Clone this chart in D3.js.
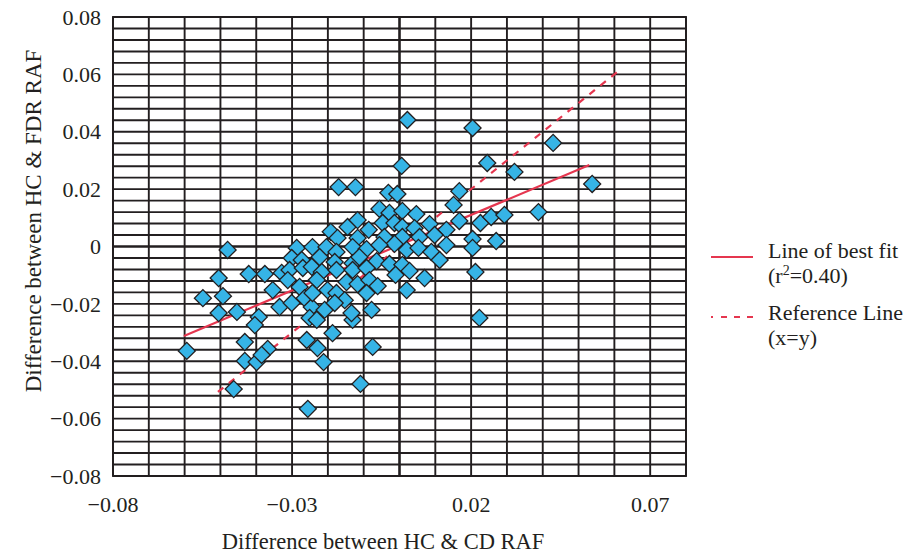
<!DOCTYPE html>
<html>
<head>
<meta charset="utf-8">
<script src="https://cdn.jsdelivr.net/npm/d3@7"></script>
<style>
  html, body { margin: 0; padding: 0; background: #ffffff; }
  svg { display: block; }
  text { font-family: "Liberation Serif", "DejaVu Serif", serif; fill: #231f20; }
</style>
</head>
<body>
<svg id="chart" width="904" height="553"></svg>
<script>
// ---- data ----
const hcCdDiff = [
  0.0022, 0.0204, 0.0429, 0.0245, 0.0321, 0.0006, 0.0167, 0.0538, 0.0388, -0.0170,
  -0.0123, -0.0031, -0.0006, 0.0151, -0.0056, -0.0028, 0.0008, 0.0047, -0.0047, -0.0014,
  0.0008, 0.0042, 0.0084, 0.0131, 0.0167, 0.0226, 0.0256, 0.0293, -0.0145, -0.0117,
  -0.0086, -0.0192, -0.0173, -0.0117, -0.0042, 0.0008, 0.0056, 0.0098, -0.0014, 0.0131,
  0.0204, 0.0204, 0.0270, 0.0020, 0.0053, 0.0089, 0.0112, -0.0287, -0.0243, -0.0204,
  -0.0176, -0.0131, -0.0092, -0.0480, -0.0301, -0.0223, -0.0181, -0.0131, -0.0112, -0.0064,
  -0.0028, 0.0008, 0.0028, -0.0011, 0.0070, 0.0212, -0.0273, -0.0329, -0.0307, -0.0270,
  -0.0245, -0.0217, -0.0176, -0.0131, -0.0092, -0.0421, -0.0376, -0.0505, -0.0354, -0.0312,
  -0.0279, -0.0231, -0.0201, -0.0148, -0.0117, -0.0084, -0.0061, 0.0020, -0.0549, -0.0493,
  -0.0505, -0.0454, -0.0335, -0.0393, -0.0404, -0.0432, -0.0594, -0.0432, -0.0399, -0.0368,
  -0.0463, -0.0256, -0.0259, -0.0229, -0.0212, -0.0187, -0.0109, -0.0075, -0.0131, -0.0134,
  -0.0078, -0.0301, -0.0265, -0.0245, -0.0209, -0.0251, -0.0231, -0.0243, -0.0176, -0.0153,
  -0.0181, -0.0092, 0.0223, -0.0056, -0.0385
];
const hcFdrDiff = [
  0.0441, 0.0413, 0.0361, 0.0291, 0.0260, 0.0281, 0.0193, 0.0218, 0.0120, 0.0207,
  0.0207, 0.0187, 0.0183, 0.0145, 0.0131, 0.0117, 0.0124, 0.0113, 0.0082, 0.0082,
  0.0068, 0.0064, 0.0078, 0.0058, 0.0089, 0.0082, 0.0103, 0.0110, 0.0068, 0.0092,
  0.0058, 0.0051, 0.0030, 0.0030, 0.0033, 0.0033, 0.0033, 0.0040, 0.0009, 0.0005,
  0.0026, -0.0005, 0.0019, -0.0012, -0.0005, -0.0019, -0.0047, -0.0005, -0.0002, -0.0002,
  -0.0019, -0.0002, -0.0009, -0.0012, -0.0040, -0.0037, -0.0054, -0.0058, -0.0037, -0.0051,
  -0.0061, -0.0064, -0.0085, -0.0099, -0.0110, -0.0089, -0.0047, -0.0092, -0.0082, -0.0075,
  -0.0071, -0.0089, -0.0082, -0.0082, -0.0075, -0.0096, -0.0096, -0.0110, -0.0152, -0.0117,
  -0.0141, -0.0117, -0.0152, -0.0124, -0.0131, -0.0117, -0.0138, -0.0152, -0.0180, -0.0173,
  -0.0232, -0.0228, -0.0211, -0.0246, -0.0274, -0.0333, -0.0364, -0.0399, -0.0403, -0.0357,
  -0.0497, -0.0566, -0.0326, -0.0354, -0.0403, -0.0302, -0.0479, -0.0350, -0.0256, -0.0232,
  -0.0221, -0.0197, -0.0180, -0.0211, -0.0221, -0.0249, -0.0256, -0.0162, -0.0162, -0.0187,
  -0.0197, -0.0162, -0.0249, 0.0005, -0.0378
];
// line of best fit (r^2 = 0.40) end points, and the x = y reference line end points
const fitX = [-0.0602, 0.0530];
const fitY = [-0.0312, 0.0284];
const refX = [-0.0507, 0.0608];
const refY = [-0.0507, 0.0608];
// axis tick labels
const xTickValues = [-0.08, -0.03, 0.02, 0.07];
const yTickValues = [0.08, 0.06, 0.04, 0.02, 0, -0.02, -0.04, -0.06, -0.08];
const xTitle = "Difference between HC & CD RAF";
const yTitle = "Difference between HC & FDR RAF";
const legendLabels = [["Line of best fit", "(r²=0.40)"], ["Reference Line", "(x=y)"]];

(function () {
  const svg = d3.select("#chart");
  const pL = 113, pR = 686, pT = 17, pB = 476;
  const x = d3.scaleLinear().domain([-0.08, 0.08]).range([pL, pR]);
  const y = d3.scaleLinear().domain([-0.08, 0.08]).range([pB, pT]);
  const ink = "#231f20";
  const red = "#e5364f";

  const fmt = v => v === 0 ? "0" : (v < 0 ? "\u2212" : "") + Math.abs(v).toFixed(2);

  // grid
  const vGrid = d3.range(-0.08, 0.0801, 0.01);
  const hGrid = d3.range(-0.08, 0.0801, 0.004);
  const g = svg.append("g");
  g.selectAll("line.v").data(vGrid).join("line")
    .attr("x1", d => x(d)).attr("x2", d => x(d))
    .attr("y1", pT).attr("y2", pB)
    .attr("stroke", ink)
    .attr("stroke-width", d => Math.abs(d) < 1e-9 ? 2.6 : 1.9);
  g.selectAll("line.h").data(hGrid).join("line")
    .attr("y1", d => y(d)).attr("y2", d => y(d))
    .attr("x1", pL).attr("x2", pR)
    .attr("stroke", ink)
    .attr("stroke-width", d => Math.abs(d) < 1e-9 ? 2.6 : 1.9);
  g.append("rect").attr("x", pL).attr("y", pT)
    .attr("width", pR - pL).attr("height", pB - pT)
    .attr("fill", "none").attr("stroke", ink).attr("stroke-width", 1.9);

  // y tick labels
  svg.append("g").selectAll("text").data(yTickValues).join("text")
    .attr("x", 101).attr("y", d => y(d))
    .attr("dy", "0.35em")
    .attr("text-anchor", "end")
    .attr("font-size", 22)
    .text(fmt);

  // x tick labels
  svg.append("g").selectAll("text").data(xTickValues).join("text")
    .attr("x", d => x(d)).attr("y", 512)
    .attr("text-anchor", "middle")
    .attr("font-size", 22)
    .text(fmt);

  // axis titles
  svg.append("text").attr("x", 383).attr("y", 549)
    .attr("text-anchor", "middle").attr("font-size", 22.5).text(xTitle);
  svg.append("text")
    .attr("transform", "translate(41,221) rotate(-90)")
    .attr("text-anchor", "middle").attr("font-size", 23).text(yTitle);

  // lines
  const lineGen = d3.line().x(d => x(d[0])).y(d => y(d[1]));
  svg.append("path").datum(d3.zip(fitX, fitY))
    .attr("d", lineGen).attr("fill", "none")
    .attr("stroke", red).attr("stroke-width", 2.2);
  svg.append("path").datum(d3.zip(refX, refY))
    .attr("d", lineGen).attr("fill", "none")
    .attr("stroke", red).attr("stroke-width", 2.2)
    .attr("stroke-dasharray", "7,7");

  // points
  const pts = d3.zip(hcCdDiff, hcFdrDiff);
  const sym = d3.symbol().type(d3.symbolSquare).size(145);
  svg.append("g").selectAll("path").data(pts).join("path")
    .attr("d", sym)
    .attr("transform", d => `translate(${x(d[0])},${y(d[1])}) rotate(45)`)
    .attr("fill", "#36b4e6")
    .attr("stroke", ink)
    .attr("stroke-width", 1.3);

  // legend
  const lg = svg.append("g");
  lg.append("line").attr("x1", 711).attr("x2", 753).attr("y1", 257).attr("y2", 257)
    .attr("stroke", red).attr("stroke-width", 2.2);
  lg.append("line").attr("x1", 711).attr("x2", 753).attr("y1", 317).attr("y2", 317)
    .attr("stroke", red).attr("stroke-width", 2.2).attr("stroke-dasharray", "2,8,6,7,6,7,6");
  const rows = [[258, 283], [320, 345]];
  legendLabels.forEach((lab, i) => {
    lg.append("text").attr("x", 768).attr("y", rows[i][0]).attr("font-size", 22).text(lab[0]);
    if (i === 0) {
      const t = lg.append("text").attr("x", 768).attr("y", rows[i][1]).attr("font-size", 22);
      t.append("tspan").text("(r");
      t.append("tspan").attr("dy", -8).attr("font-size", 14).text("2");
      t.append("tspan").attr("dy", 8).text("=0.40)");
    } else {
      lg.append("text").attr("x", 768).attr("y", rows[i][1]).attr("font-size", 22).text(lab[1]);
    }
  });
})();
</script>
</body>
</html>
